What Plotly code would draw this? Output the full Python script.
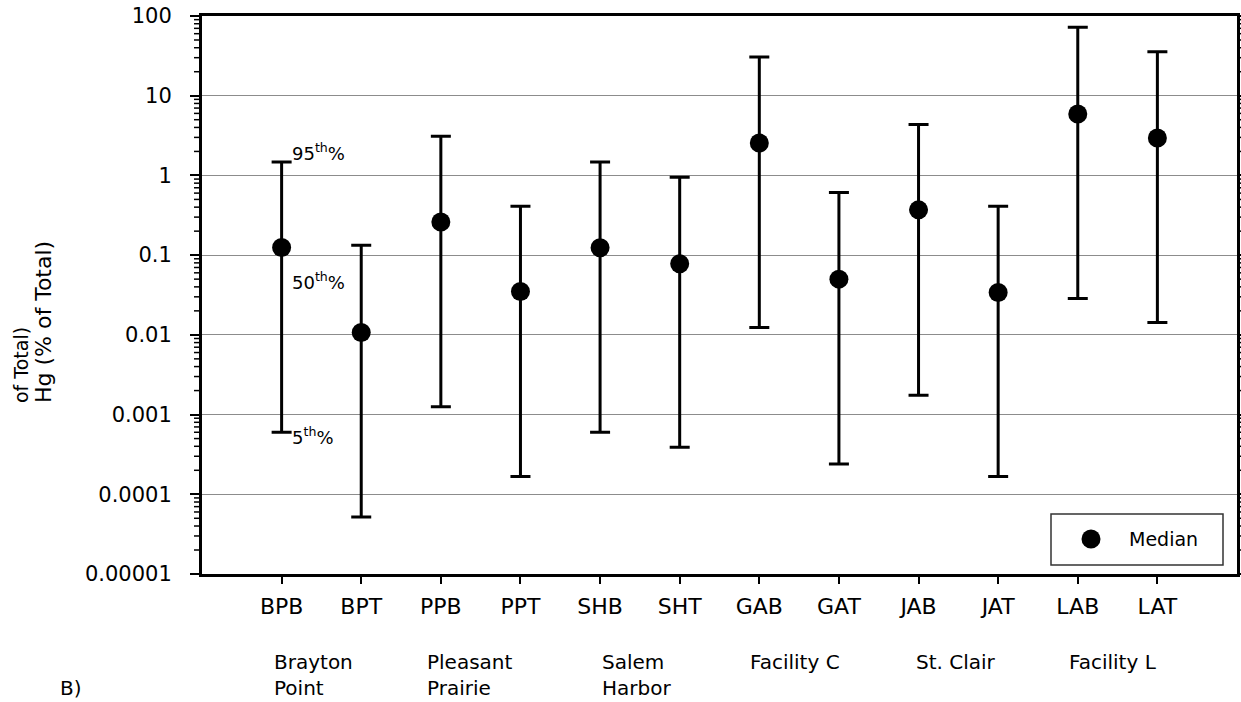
import math
import plotly.graph_objects as go

# Sample codes and the facility each pair belongs to
samples = ["BPB", "BPT", "PPB", "PPT", "SHB", "SHT", "GAB", "GAT", "JAB", "JAT", "LAB", "LAT"]
facilities = ["Brayton<br>Point", "Pleasant<br>Prairie", "Salem<br>Harbor", "Facility C", "St. Clair", "Facility L"]

# Percentiles of Hg (% of total)
p95 = [1.47, 0.133, 3.1, 0.41, 1.47, 0.95, 30.5, 0.61, 4.35, 0.41, 72.0, 35.5]
p50 = [0.125, 0.0107, 0.26, 0.035, 0.124, 0.078, 2.55, 0.050, 0.37, 0.034, 5.9, 2.95]
p5 = [0.0006, 0.000052, 0.00125, 0.000167, 0.0006, 0.00039, 0.0124, 0.00024, 0.00175, 0.000167, 0.0285, 0.0143]

ytick_vals = [1e-5, 1e-4, 1e-3, 1e-2, 1e-1, 1, 10, 100]
ytick_text = ["0.00001", "0.0001", "0.001", "0.01", "0.1", "1", "10", "100"]
Y_LOG_RANGE = [-5, 2]

# Minor log ticks (2..9 within each decade)
minor_vals = [m * 10.0 ** e for e in range(-5, 2) for m in range(2, 10)]

FONT = "DejaVu Sans"

# Plot-area geometry in pixels, used to place the free text
W, H = 1241, 702
L, R, T, B = 202, 4, 16, 128
PW, PH = W - L - R, H - T - B


def px(x):
    return (x - L) / PW


def py(y):
    return (H - B - y) / PH


def log_frac(v):
    lo, hi = Y_LOG_RANGE
    return (math.log10(v) - lo) / (hi - lo)


fig = go.Figure()
fig.add_trace(go.Scatter(
    x=samples,
    y=p50,
    mode="markers",
    name="Median",
    showlegend=False,
    marker=dict(color="black", size=19),
    error_y=dict(
        type="data",
        symmetric=False,
        array=[hi - m for hi, m in zip(p95, p50)],
        arrayminus=[m - lo for m, lo in zip(p50, p5)],
        color="black",
        thickness=3,
        width=10,
    ),
))

annotations = []
shapes = []

# Facility names under the sample codes
fac_left = [272, 425, 600, 748, 914, 1067]
for name, xl in zip(facilities, fac_left):
    annotations.append(dict(
        text=name, xref="paper", yref="paper", x=px(xl), y=py(648),
        xanchor="left", yanchor="top", align="left", showarrow=False,
        font=dict(family=FONT, size=20, color="black"),
    ))

# Percentile call-outs on the first bar
for txt, yy in [("95<sup>th</sup>%", 152), ("50<sup>th</sup>%", 281), ("5<sup>th</sup>%", 436)]:
    annotations.append(dict(
        text=txt, xref="paper", yref="paper", x=px(290), y=py(yy),
        xanchor="left", yanchor="middle", showarrow=False,
        font=dict(family=FONT, size=18, color="black"),
    ))

# Axis title (two stacked lines)
annotations.append(dict(
    text="Hg (% of Total)", xref="paper", yref="paper", x=px(43), y=py(405),
    xanchor="center", yanchor="bottom", textangle=-90, showarrow=False,
    font=dict(family=FONT, size=22, color="black"),
))
annotations.append(dict(
    text="of Total)", xref="paper", yref="paper", x=px(21), y=py(405),
    xanchor="center", yanchor="bottom", textangle=-90, showarrow=False,
    font=dict(family=FONT, size=19, color="black"),
))

# Panel label
annotations.append(dict(
    text="B)", xref="paper", yref="paper", x=px(58), y=py(688),
    xanchor="left", yanchor="middle", showarrow=False,
    font=dict(family=FONT, size=20, color="black"),
))

# Legend box with the median symbol
shapes.append(dict(
    type="rect", xref="paper", yref="paper",
    x0=px(1051), x1=px(1223), y0=py(565), y1=py(514),
    line=dict(color="#333", width=1.5), fillcolor="white", layer="above",
))
shapes.append(dict(
    type="circle", xref="paper", yref="paper",
    xsizemode="pixel", ysizemode="pixel",
    xanchor=px(1091), yanchor=py(539),
    x0=-9.5, x1=9.5, y0=-9.5, y1=9.5,
    line=dict(color="black", width=0), fillcolor="black", layer="above",
))
annotations.append(dict(
    text="Median", xref="paper", yref="paper", x=px(1127), y=py(539),
    xanchor="left", yanchor="middle", showarrow=False,
    font=dict(family=FONT, size=19, color="black"),
))

# Minor ticks on both vertical axes
for v in minor_vals:
    f = log_frac(v)
    shapes.append(dict(type="line", xref="paper", yref="paper",
                       x0=px(194), x1=px(202), y0=f, y1=f,
                       line=dict(color="black", width=1.5)))
    shapes.append(dict(type="line", xref="paper", yref="paper",
                       x0=px(1237), x1=px(1245), y0=f, y1=f,
                       line=dict(color="black", width=1.5)))

fig.update_layout(
    width=W, height=H, autosize=False,
    margin=dict(l=L, r=R, t=T, b=B, autoexpand=False),
    paper_bgcolor="white", plot_bgcolor="white",
    font=dict(family=FONT, size=21, color="black"),
    showlegend=False,
    annotations=annotations,
    shapes=shapes,
    xaxis=dict(
        type="category", range=[-1, 12], automargin=False,
        showline=True, linecolor="black", linewidth=3, mirror=True,
        ticks="outside", ticklen=7, tickwidth=2, tickcolor="black",
        ticklabelstandoff=4, tickfont=dict(family=FONT, size=22),
        showgrid=False, zeroline=False,
    ),
    yaxis=dict(
        type="log", range=Y_LOG_RANGE, automargin=False,
        tickvals=ytick_vals, ticktext=ytick_text,
        showline=True, linecolor="black", linewidth=3, mirror="ticks",
        ticks="outside", ticklen=9, tickwidth=2, tickcolor="black",
        ticklabelstandoff=14,
        showgrid=True, gridcolor="#8c8c8c", gridwidth=1,
        zeroline=False,
    ),
)

fig.write_html("out.html")
